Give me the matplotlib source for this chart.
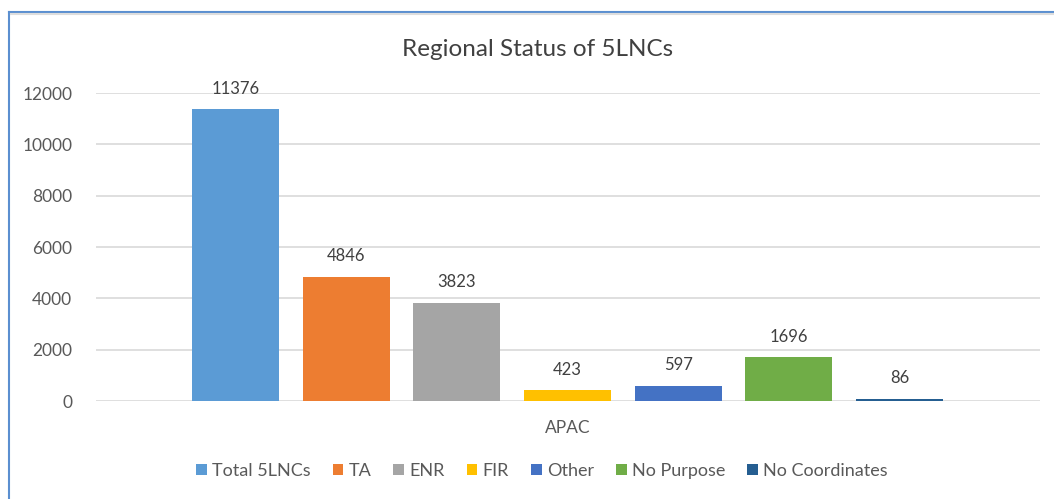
import matplotlib
matplotlib.use('Agg')
import matplotlib.pyplot as plt
from matplotlib.lines import Line2D

plt.rcParams['font.family'] = ['Lato', 'DejaVu Sans']

# Chart data
category = 'APAC'
series_names = ['Total 5LNCs', 'TA', 'ENR', 'FIR', 'Other', 'No Purpose', 'No Coordinates']
series_values = [11376, 4846, 3823, 423, 597, 1696, 86]
series_colors = ['#5B9BD5', '#ED7D31', '#A5A5A5', '#FFC000', '#4472C4', '#70AD47', '#255E91']

W, H = 1054, 499
fig = plt.figure(figsize=(W / 100, H / 100), dpi=100)
ax = fig.add_axes([96 / W, (H - 401) / H, (1040 - 96) / W, (401 - 93) / H])

text_color = '#595959'
bar_width = 0.786

# One bar per series around the single category
for i, (name, value, color) in enumerate(zip(series_names, series_values, series_colors)):
    pos = i - (len(series_names) - 1) / 2
    ax.bar(pos, value, width=bar_width, color=color, label=name, zorder=3)
    ax.annotate(str(value), (pos, value), textcoords='offset points', xytext=(0, 9),
                ha='center', va='bottom', fontsize=12, color='#404040')

ax.set_xlim(-4.26, 4.27)
ax.set_ylim(0, 12000)
ax.set_yticks(range(0, 12001, 2000))
ax.set_xticks([0])
ax.set_xticklabels([category])
ax.grid(axis='y', color='#D9D9D9', linewidth=1.2, zorder=0)
for side in ['top', 'right', 'left', 'bottom']:
    ax.spines[side].set_visible(False)
ax.tick_params(axis='both', length=0, labelsize=12.5, colors=text_color)
ax.tick_params(axis='y', pad=17)
ax.tick_params(axis='x', pad=14)

fig.text(538 / W, 1 - 50 / H, 'Regional Status of 5LNCs', ha='center', va='center',
         fontsize=17.5, color='#404040')

fig.legend(loc='center', bbox_to_anchor=(542 / W, 1 - 471 / H), ncol=7, frameon=False,
           fontsize=13, handlelength=0.6, handleheight=0.6, handletextpad=0.3,
           columnspacing=1.2, labelcolor=text_color)

# Chart border (blue top and left edges, as in the screenshot)
fig.add_artist(Line2D([9 / W, 9 / W], [0, 1 - 12 / H], color='#5B8FD0', linewidth=1.5))
fig.add_artist(Line2D([9 / W, 1], [1 - 12 / H, 1 - 12 / H], color='#5B8FD0', linewidth=1.5))
fig.add_artist(Line2D([11 / W, 1], [1 - 14 / H, 1 - 14 / H], color='#DDDDDD', linewidth=1.5))

fig.savefig('out.png', dpi=100)
